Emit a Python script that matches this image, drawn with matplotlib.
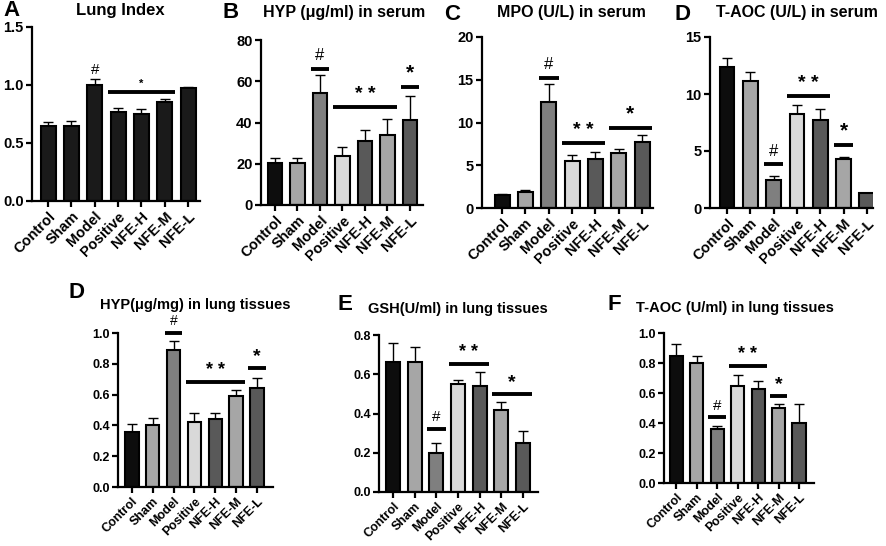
import matplotlib
matplotlib.use("Agg")
import matplotlib.pyplot as plt
import numpy as np

plt.rcParams["font.family"] = ["Liberation Sans", "DejaVu Sans"]
plt.rcParams["font.weight"] = "bold"

W, H = 886, 546

GROUPS = ["Control", "Sham", "Model", "Positive", "NFE-H", "NFE-M", "NFE-L"]
GRAYS = ["#0d0d0d", "#a6a6a6", "#7f7f7f", "#d9d9d9", "#595959", "#a6a6a6", "#595959"]
BLACKS = ["#1a1a1a"] * 7

# panel data: means and upper SD
lung_index = [0.65, 0.65, 1.00, 0.77, 0.75, 0.85, 0.97]
lung_index_err = [0.03, 0.04, 0.05, 0.03, 0.04, 0.03, 0.01]

hyp_serum = [20.5, 20.3, 54.5, 24.0, 30.8, 33.7, 41.0]
hyp_serum_err = [2.5, 2.7, 8.7, 4.0, 5.7, 8.0, 12.0]

mpo_serum = [1.5, 1.85, 12.4, 5.55, 5.7, 6.45, 7.75]
mpo_serum_err = [0.1, 0.2, 2.1, 0.6, 0.8, 0.5, 0.8]

taoc_serum = [12.4, 11.1, 2.5, 8.25, 7.7, 4.3, 1.3]
taoc_serum_err = [0.8, 0.8, 0.35, 0.8, 0.95, 0.2, 0.05]

hyp_lung = [0.36, 0.40, 0.89, 0.42, 0.44, 0.59, 0.64]
hyp_lung_err = [0.05, 0.05, 0.06, 0.06, 0.04, 0.04, 0.07]

gsh_lung = [0.66, 0.66, 0.20, 0.55, 0.54, 0.42, 0.25]
gsh_lung_err = [0.10, 0.08, 0.05, 0.02, 0.07, 0.04, 0.06]

taoc_lung = [0.85, 0.80, 0.36, 0.65, 0.63, 0.50, 0.40]
taoc_lung_err = [0.08, 0.05, 0.02, 0.07, 0.05, 0.03, 0.13]

# significance marks: (first bar, last bar, line y, text, text y, text size)
marks_a = [(2, 2, None, "#", 1.07, 11), (3, 5, 0.94, "*", 0.97, 8)]
marks_b = [(2, 2, 66, "#", 69, 12), (3, 5, 47.5, "* *", 49.5, 14), (6, 6, 57.3, "*", 59.5, 15)]
marks_c = [(2, 2, 15.2, "#", 15.9, 12), (3, 4, 7.6, "* *", 8.1, 14), (5, 6, 9.4, "*", 9.9, 15)]
marks_d = [(2, 2, 3.9, "#", 4.3, 12), (3, 4, 9.85, "* *", 10.2, 14), (5, 5, 5.5, "*", 5.9, 15)]
marks_d2 = [(2, 2, 1.0, "#", 1.03, 10), (3, 5, 0.68, "* *", 0.70, 13), (6, 6, 0.77, "*", 0.79, 14)]
marks_e = [(2, 2, 0.323, "#", 0.345, 11), (3, 4, 0.65, "* *", 0.665, 13), (5, 6, 0.497, "*", 0.512, 14)]
marks_f = [(2, 2, 0.44, "#", 0.465, 11), (3, 4, 0.78, "* *", 0.80, 13), (5, 5, 0.58, "*", 0.60, 14)]

panels = [
    # values, errors, colours, marks, yticks, tick fmt, pixel box (l, r, t, b), xlim, tick size
    (lung_index, lung_index_err, BLACKS, marks_a, [0, 0.5, 1.0, 1.5], "{:.1f}",
     (32, 200, 27, 201), (-0.69, 6.51), 10.5),
    (hyp_serum, hyp_serum_err, GRAYS, marks_b, [0, 20, 40, 60, 80], "{:.0f}",
     (261, 423, 40, 205), (-0.62, 6.58), 10.5),
    (mpo_serum, mpo_serum_err, GRAYS, marks_c, [0, 5, 10, 15, 20], "{:.0f}",
     (482, 653, 37, 208), (-0.86, 6.47), 10.5),
    (taoc_serum, taoc_serum_err, GRAYS, marks_d, [0, 5, 10, 15], "{:.0f}",
     (710, 873, 37, 208), (-0.73, 6.26), 10.5),
    (hyp_lung, hyp_lung_err, GRAYS, marks_d2, [0, 0.2, 0.4, 0.6, 0.8, 1.0], "{:.1f}",
     (118, 273, 333, 487), (-0.67, 6.77), 9),
    (gsh_lung, gsh_lung_err, GRAYS, marks_e, [0, 0.2, 0.4, 0.6, 0.8], "{:.1f}",
     (379, 538, 335, 492), (-0.65, 6.69), 9),
    (taoc_lung, taoc_lung_err, GRAYS, marks_f, [0, 0.2, 0.4, 0.6, 0.8, 1.0], "{:.1f}",
     (664, 814, 333, 483), (-0.59, 6.73), 9),
]

titles = [
    ("A", 12, 10, "Lung Index", 120, 11, 12),
    ("B", 231, 13, "HYP (μg/ml) in serum", 344, 13, 11.5),
    ("C", 452, 14, "MPO (U/L) in serum", 571, 13, 11.5),
    ("D", 683, 14, "T-AOC (U/L) in serum", 797, 13, 11.5),
    ("D", 77, 293, "HYP(μg/mg) in lung tissues", 195, 305, 10.5),
    ("E", 345, 305, "GSH(U/ml) in lung tissues", 458, 309, 10.5),
    ("F", 614, 305, "T-AOC (U/ml) in lung tissues", 735, 308, 10.5),
]

fig = plt.figure(figsize=(W / 100, H / 100), dpi=100)

for vals, errs, cols, marks, yticks, fmt, box, xlim, tsize in panels:
    l, r, t, b = box
    ax = fig.add_axes([l / W, 1 - b / H, (r - l) / W, (b - t) / H])
    x = np.arange(len(GROUPS))
    ax.bar(x, vals, width=0.64, color=cols, edgecolor="black", linewidth=1.5, zorder=2)
    ax.errorbar(x, vals, yerr=[np.zeros(len(vals)), errs], fmt="none", ecolor="black",
                elinewidth=1.0, capsize=3.5, capthick=1.0, zorder=1)
    for i0, i1, ly, txt, ty, fs in marks:
        if ly is not None:
            ax.plot([i0 - 0.42, i1 + 0.42], [ly, ly], color="black", lw=2.8,
                    solid_capstyle="butt", clip_on=False)
        ax.text((i0 + i1) / 2, ty, txt, ha="center", va="bottom", fontsize=fs,
                fontweight="normal" if txt == "#" else "bold", clip_on=False)
    ax.set_xlim(*xlim)
    ax.set_ylim(yticks[0], yticks[-1])
    ax.set_yticks(yticks)
    ax.set_yticklabels([fmt.format(v) for v in yticks], fontsize=tsize, fontweight="bold")
    ax.set_xticks(x)
    ax.set_xticklabels(GROUPS, rotation=45, ha="right", rotation_mode="anchor",
                       fontsize=tsize, fontweight="bold")
    for side in ["top", "right"]:
        ax.spines[side].set_visible(False)
    for side in ["left", "bottom"]:
        ax.spines[side].set_linewidth(1.6)
    ax.tick_params(axis="both", width=1.6, length=4, direction="out", pad=2)

for letter, lx, ly, title, tx, ty, fs in titles:
    fig.text(lx / W, 1 - ly / H, letter, ha="center", va="center", fontsize=16, fontweight="bold")
    fig.text(tx / W, 1 - ty / H, title, ha="center", va="center", fontsize=fs, fontweight="bold")

fig.savefig("out.png", dpi=100)
